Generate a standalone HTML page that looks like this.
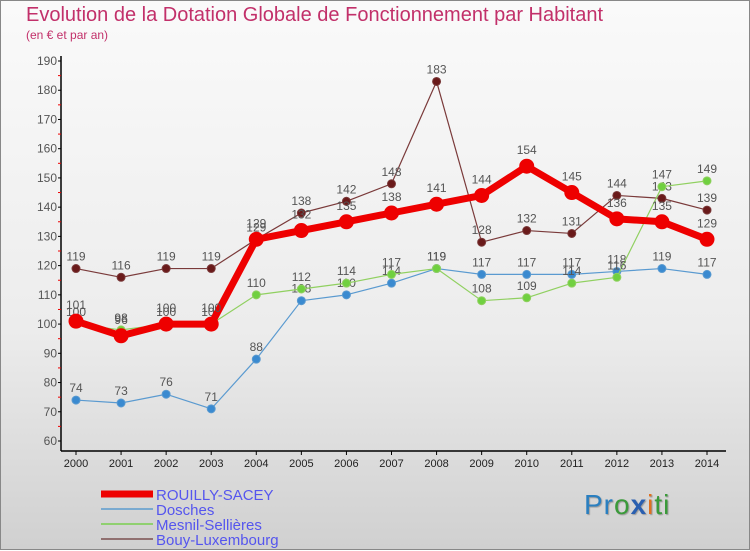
<!DOCTYPE html>
<html><head><meta charset="utf-8">
<style>
body{margin:0;width:750px;height:550px;overflow:hidden;font-family:"Liberation Sans",sans-serif;}
#wrap{position:relative;width:748px;height:548px;border:1px solid #888;background:linear-gradient(#fafafa,#ececec 60%,#d0d0d0);}
.t{position:absolute;color:#c2306a;}
</style></head><body>
<div id="wrap">
<div class="t" style="left:25px;top:3px;font-size:20px;">Evolution de la Dotation Globale de Fonctionnement par Habitant</div>
<div class="t" style="left:25px;top:27px;font-size:12px;">(en € et par an)</div>
<svg id="chart" width="750" height="550" style="position:absolute;left:0;top:0"></svg>
<div style="position:absolute;left:583px;top:488px;font-size:28px;letter-spacing:1px;text-shadow:1px 1px 1px #999"><span style="color:#2a7fc0">Pr</span><span style="color:#3a9a3a">o</span><span style="color:#2a5fb0;font-weight:bold">x</span><span style="color:#e07020">i</span><span style="color:#3a9a3a">ti</span></div>
</div>
<script>
const years=[2000,2001,2002,2003,2004,2005,2006,2007,2008,2009,2010,2011,2012,2013,2014];
const rouilly=[101,96,100,100,129,132,135,138,141,144,154,145,136,135,129];
const dosches=[74,73,76,71,88,108,110,114,119,117,117,117,118,119,117];
const mesnil=[100,98,100,100,110,112,114,117,119,108,109,114,116,147,149];
const bouy=[119,116,119,119,129,138,142,148,183,128,132,131,144,143,139];
const yTicks=[60,70,80,90,100,110,120,130,140,150,160,170,180,190];
const NS='http://www.w3.org/2000/svg';
const svg=document.getElementById('chart');
const xS=i=>75+i*(706-75)/14;
const yS=v=>440-(v-60)*(380/130);
function mk(t,a,p){const e=document.createElementNS(NS,t);for(const k in a)e.setAttribute(k,a[k]);(p||svg).appendChild(e);return e;}
let ax=mk('line',{x1:60,y1:55,x2:60,y2:450,stroke:'#000','stroke-width':1.5});


let bx=mk('line',{x1:60,y1:450,x2:725,y2:450,stroke:'#000','stroke-width':1.5});


for(let v=60;v<=190;v+=5){mk('line',{x1:57,x2:60,y1:yS(v),y2:yS(v),stroke:v%10?'#e00':'#000'});}
yTicks.forEach(v=>{const t=mk('text',{x:56,y:yS(v)+4,'text-anchor':'end','font-size':12,fill:'#555'});t.textContent=v;

});
years.forEach((y,i)=>{mk('line',{x1:xS(i),x2:xS(i),y1:450,y2:454,stroke:'#000'});const t=mk('text',{x:xS(i),y:466,'text-anchor':'middle','font-size':11,fill:'#222'});t.textContent=y;

});
function series(name,data,color,dot,w,r){
 const g=mk('g',{});
 
 
 mk('polyline',{points:data.map((v,i)=>xS(i)+','+yS(v)).join(' '),fill:'none',stroke:color,'stroke-width':w,'stroke-linejoin':'round'},g);
 data.forEach((v,i)=>{const c=mk('circle',{cx:xS(i),cy:yS(v),r:r,fill:dot,stroke:color,'stroke-width':1},g);
 
 
 const t=mk('text',{x:xS(i),y:yS(v)-8-(r>5?4:0),'text-anchor':'middle','font-size':12,fill:'#555'},g);t.textContent=v;
 
 });
}
series('series-bouy',bouy,'#7a3a3a','#6a1a1a',1.2,4);
series('series-dosches',dosches,'#5a9ad0','#3a8ad0',1.2,4);
series('series-mesnil',mesnil,'#90d060','#70d040',1.2,4);
series('series-rouilly',rouilly,'#ee0000','#ee0000',7,7);
const leg=[['ROUILLY-SACEY','#ee0000',7],['Dosches','#7aaad0',2],['Mesnil-Sellières','#90d070',2],['Bouy-Luxembourg','#907070',2]];
leg.forEach((l,i)=>{const y=493+i*15;const g=mk('g',{});


mk('line',{x1:100,x2:152,y1:y,y2:y,stroke:l[1],'stroke-width':l[2]},g);
const t=mk('text',{x:155,y:y+6,'font-size':15,fill:'#5555ee'},g);t.textContent=l[0];});
</script>
</body></html>
